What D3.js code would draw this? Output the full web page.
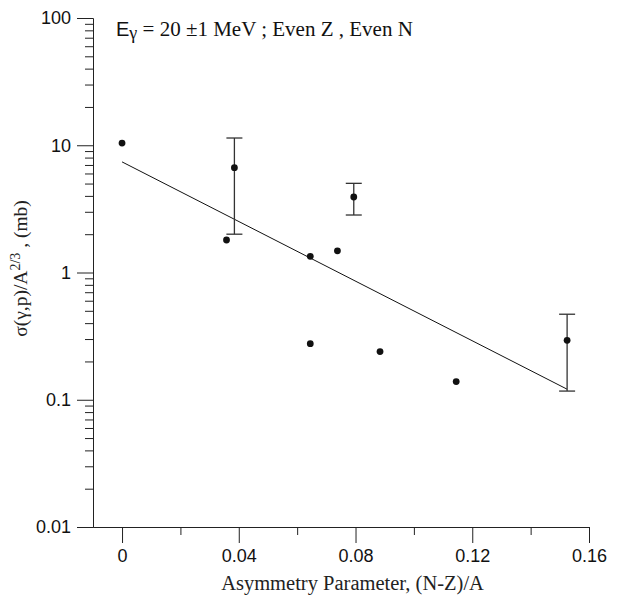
<!DOCTYPE html>
<html>
<head>
<meta charset="utf-8">
<script src="https://cdn.jsdelivr.net/npm/d3@7"></script>
<style>
  body { margin: 0; background: #fff; }
  .tick text { font-family: Arial, "Liberation Sans", sans-serif; }
</style>
</head>
<body>
<div id="chart-area"></div>
<script>
// data
const asym  = [0, 0.0358, 0.0385, 0.0645, 0.0645, 0.0738, 0.0794, 0.0884, 0.1145, 0.1525];
const sigma = [10.4, 1.80, 6.67, 1.34, 0.276, 1.48, 3.92, 0.239, 0.139, 0.293];
const errHi = [null, null, 11.4, null, null, null, 5.02, null, null, 0.47];
const errLo = [null, null, 2.0, null, null, null, 2.83, null, null, 0.117];

const fitX = [0, 0.1525];
const fitY = [7.4, 0.121];

const xTicks = [0, 0.04, 0.08, 0.12, 0.16];
const yTicks = [0.01, 0.1, 1, 10, 100];

const margin = { left: 93, right: 38, top: 18, bottom: 77 };
const full_width = 627, full_height = 604;
const width = full_width - margin.left - margin.right, height = full_height - margin.top - margin.bottom;

const svg = d3.select("#chart-area").append("svg").attr("width", full_width).attr("height", full_height);
const g = svg.append("g").attr("transform", "translate(" + margin.left + ", " + margin.top + ")");

const x = d3.scaleLinear().domain([-0.00995, 0.16]).range([0, width]);
const y = d3.scaleLog().domain([0.01, 100]).range([height, 0]);

// minor ticks
const xMinor = [0.02, 0.06, 0.10, 0.14];
const yMinor = [];
[0.01, 0.1, 1, 10].forEach(d => { for (let k = 2; k <= 9; k++) yMinor.push(d * k); });

g.append("g")
    .attr("transform", "translate(0, " + height + ")")
    .call(d3.axisBottom(x).tickValues(xMinor).tickSize(8).tickSizeOuter(0).tickFormat(""));
g.append("g")
    .attr("transform", "translate(0, " + height + ")")
    .call(d3.axisBottom(x).tickValues(xTicks).tickSize(16).tickSizeOuter(0).tickPadding(6)
        .tickFormat(d => d === 0 ? "0" : d3.format(".2f")(d).replace(/0$/, "")));

g.append("g")
    .call(d3.axisLeft(y).tickValues(yMinor).tickSize(8).tickSizeOuter(0).tickFormat(""));
g.append("g")
    .call(d3.axisLeft(y).tickValues(yTicks).tickSize(16).tickSizeOuter(0).tickPadding(6)
        .tickFormat(d => String(d)));

g.selectAll(".domain").attr("stroke", "#222");
g.selectAll(".tick line").attr("stroke", "#222");
g.selectAll(".tick text").attr("font-size", "18px").attr("fill", "#111");

// labels
g.append("text")
    .attr("x", x(0.08) - 3)
    .attr("y", height + 63)
    .attr("text-anchor", "middle")
    .attr("font-family", "'Liberation Serif', 'Times New Roman', serif")
    .attr("font-size", "20.5px")
    .attr("fill", "#222")
    .text("Asymmetry Parameter, (N-Z)/A");

const yl = g.append("text")
    .attr("transform", "translate(-66, " + (y(1) - 4) + ") rotate(-90)")
    .attr("text-anchor", "middle")
    .attr("font-family", "'Liberation Serif', 'Times New Roman', serif")
    .attr("font-size", "19.5px")
    .attr("fill", "#222");
yl.append("tspan").text("σ(γ,p)/A");
yl.append("tspan").attr("dy", -7).attr("font-size", "14px").text("2/3");
yl.append("tspan").attr("dy", 7).text(" , (mb)");

const title = g.append("text")
    .attr("x", 23)
    .attr("y", 18)
    .attr("font-family", "'Liberation Serif', 'Times New Roman', serif")
    .attr("font-size", "21px")
    .attr("fill", "#111");
title.append("tspan").attr("font-family", "Arial, 'Liberation Sans', sans-serif").attr("font-size", "20px").text("E");
title.append("tspan").attr("dy", 3).attr("font-size", "18px").text("γ");
title.append("tspan").attr("dy", -3).text(" = 20 ±1 MeV ; Even Z , Even N");

// fit line
const line = d3.line().x(d => x(d[0])).y(d => y(d[1]));
g.append("path")
    .datum(fitX.map((d, i) => [d, fitY[i]]))
    .attr("d", line)
    .attr("fill", "none")
    .attr("stroke", "#111")
    .attr("stroke-width", 1);

// error bars
const pts = asym.map((d, i) => ({ x: d, y: sigma[i], hi: errHi[i], lo: errLo[i] }));
const eb = g.selectAll(".err").data(pts.filter(d => d.hi !== null)).enter().append("g")
    .attr("stroke", "#333").attr("stroke-width", 1.3);
eb.append("line").attr("x1", d => x(d.x)).attr("x2", d => x(d.x)).attr("y1", d => y(d.hi)).attr("y2", d => y(d.lo));
eb.append("line").attr("x1", d => x(d.x) - 8).attr("x2", d => x(d.x) + 8).attr("y1", d => y(d.hi)).attr("y2", d => y(d.hi));
eb.append("line").attr("x1", d => x(d.x) - 8).attr("x2", d => x(d.x) + 8).attr("y1", d => y(d.lo)).attr("y2", d => y(d.lo));

// points
g.selectAll("circle").data(pts).enter().append("circle")
    .attr("cx", d => x(d.x))
    .attr("cy", d => y(d.y))
    .attr("r", 3.4)
    .attr("fill", "#111");
</script>
</body>
</html>
